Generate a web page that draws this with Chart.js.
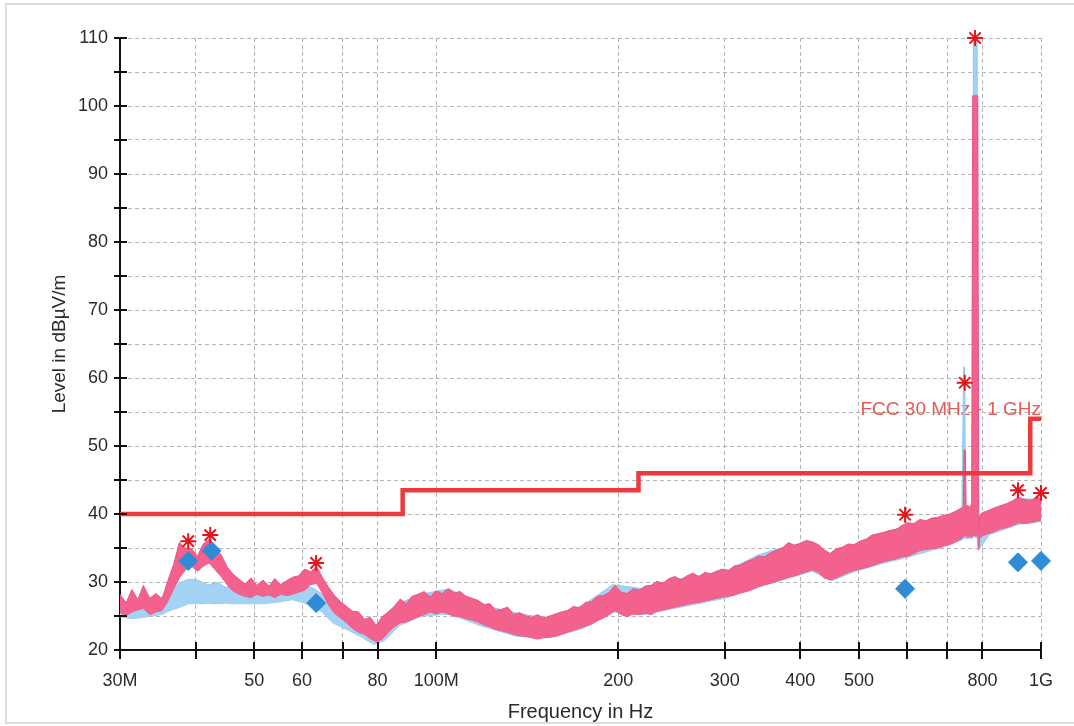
<!DOCTYPE html>
<html>
<head>
<meta charset="utf-8">
<title>Radiated emission scan</title>
<script src="https://cdn.jsdelivr.net/npm/chart.js@4.4.1/dist/chart.umd.min.js"></script>
<style>
  html, body { margin: 0; padding: 0; background: #fff; }
  #wrap { position: relative; width: 1074px; height: 726px; overflow: hidden; }
  #frame { position: absolute; left: 5px; top: 3px; width: 1090px; height: 721px; border: 2px solid #dcdcdc; box-sizing: border-box; }
  #scan { position: absolute; left: 0; top: 0; }
</style>
</head>
<body>
<div id="wrap">
  <div id="frame"></div>
  <canvas id="scan" width="1074" height="726"></canvas>
</div>
<script>
// frequencies in MHz, levels in dBuV/m

// x axis ticks
const xTickValues = [30, 40, 50, 60, 70, 80, 100, 200, 300, 400, 500, 600, 700, 800, 1000];
const xTickLabels = ["30M", "", "50", "60", "", "80", "100M", "200", "300", "400", "500", "", "", "800", "1G"];

// FCC limit (step starts)
const limitFreq = [30, 88, 216, 960, 1000];
const limitLevel = [40, 43.5, 46, 54, 54];

// peak trace (pink) - upper / lower edge of the noise band
const peakFreq = [
  30, 30.7, 31.4, 32.1, 32.8, 33.6, 34.4, 35.2, 36.0, 36.8,
  37.6, 38.5, 39.4, 40.3, 41.2, 42.1, 43.1, 44.1, 45.1, 46.1,
  47.2, 48.3, 49.4, 50.5, 51.7, 52.9, 54.1, 55.3, 56.6, 57.9,
  59.2, 60.6, 62.0, 63.4, 64.9, 66.4, 67.9, 69.5, 71.1, 72.7,
  74.4, 76.1, 77.8, 79.6, 81.4, 83.3, 85.2, 87.2, 89.2, 91.2,
  93.3, 95.5, 97.7, 100, 102.3, 104.6, 107, 109.5, 112, 114.6,
  117.2, 119.9, 122.7, 125.5, 128.4, 131.3, 134.3, 137.4, 140.6, 143.8,
  147.1, 150.5, 154, 157.5, 161.1, 164.8, 168.6, 172.5, 176.5, 180.5,
  184.7, 188.9, 193.3, 197.7, 202.3, 206.9, 211.7, 216.5, 221.5, 226.6,
  231.8, 237.1, 242.6, 248.2, 253.9, 259.7, 265.7, 271.8, 278, 284.4,
  291, 297.7, 304.5, 311.5, 318.7, 326, 333.5, 341.2, 349, 357,
  365.3, 373.7, 382.3, 391.1, 400, 409.2, 418.6, 428.3, 438.1, 448.2,
  458.5, 469, 479.8, 490.9, 502.2, 513.7, 525.5, 537.6, 550, 562.6,
  575.6, 588.8, 602.3, 616.2, 630.3, 644.8, 659.7, 674.8, 690.3, 706.2,
  722.5, 739.1, 744, 746, 750, 752, 756, 762, 768, 771,
  786, 789, 792, 800, 818, 837, 856, 876, 896, 917,
  938, 960, 982, 1000
];
const peakHigh = [
  28.2, 26.9, 28.9, 27.4, 29.5, 27.6, 28.3, 27.5, 30.2, 32.6,
  35.8, 35.0, 34.9, 33.8, 35.6, 36.3, 35.0, 34.0, 32.2, 31.2,
  30.4, 29.7, 30.6, 29.5, 30.3, 29.4, 30.5, 29.6, 30.2, 30.7,
  30.9, 31.9, 31.5, 32.3, 30.6, 29.2, 28.0, 27.1, 26.4, 25.7,
  25.6, 24.5, 24.8, 23.6, 24.9, 25.6, 26.4, 27.5, 26.8, 27.9,
  28.2, 28.6, 27.8, 28.7, 28.3, 29.0, 28.4, 28.6, 27.9, 27.6,
  27.3, 26.7, 26.8, 25.8, 26.0, 26.3, 25.2, 25.5, 25.0, 24.8,
  25.2, 24.7, 25.0, 25.3, 25.6, 25.8, 26.4, 26.2, 27.0, 27.1,
  27.9, 28.0, 28.5, 29.5, 28.5, 28.3, 29.0, 28.8, 29.4, 29.5,
  30.1, 29.8, 30.5, 30.8, 30.3, 30.9, 31.3, 30.8, 31.4, 31.2,
  31.6, 31.9, 31.7, 32.4, 32.5, 33.0, 33.3, 33.8, 33.7, 34.3,
  34.7, 35.0, 35.8, 35.4, 35.7, 36.1, 35.9, 35.5, 34.7, 34.2,
  34.9, 35.1, 35.6, 35.5, 36.0, 36.3, 36.9, 37.1, 37.3, 37.6,
  37.7, 38.3, 38.7, 38.6, 39.2, 39.0, 39.4, 39.5, 39.8, 40.0,
  40.4, 40.9, 41.0, 49.4, 49.4, 40.9, 41.3, 41.0, 41.5, 101.5,
  101.5, 37.6, 39.8, 40.2, 40.5, 40.9, 41.2, 41.5, 41.9, 42.5,
  42.1, 42.0, 42.4, 42.3
];
const peakLow = [
  25.5, 25.1, 25.6, 25.9, 26.1, 25.2, 25.6, 25.8, 27.2, 29.0,
  30.6, 31.8, 32.3, 31.6, 32.3, 32.8, 31.8, 30.8, 29.6, 28.7,
  28.2, 27.9, 27.7, 28.2, 27.9, 28.1, 27.7, 28.2, 28.0, 28.2,
  28.5, 28.8, 29.6, 29.8, 28.3, 26.6, 25.4, 24.7, 24.0, 23.2,
  22.6, 22.3, 21.7, 21.2, 21.6, 22.6, 23.4, 24.0, 24.1, 24.5,
  24.9, 25.2, 25.6, 25.3, 25.6, 25.3, 25.0, 24.9, 24.6, 24.4,
  24.1, 23.7, 23.4, 23.0, 22.8, 22.6, 22.3, 22.1, 22.0, 21.8,
  21.6, 21.8, 21.9, 22.0, 22.3, 22.6, 22.9, 23.2, 23.5, 23.8,
  24.3, 24.7, 25.2, 25.8, 25.2, 24.9, 25.3, 25.2, 25.4, 25.2,
  25.7, 25.9, 26.1, 26.3, 26.5, 26.7, 26.9, 27.0, 27.2, 27.4,
  27.6, 27.8, 27.9, 28.1, 28.4, 28.6, 28.9, 29.3, 29.6, 29.8,
  30.1, 30.4, 30.7, 30.9, 31.2, 31.5, 31.8, 31.4, 30.6, 30.3,
  30.6, 31.0, 31.4, 31.7, 31.9, 32.1, 32.4, 32.7, 33.0, 33.2,
  33.4, 33.7, 33.8, 34.2, 34.6, 34.8, 34.9, 35.0, 35.3, 35.5,
  35.9, 36.4, 36.6, 36.8, 36.8, 36.7, 36.6, 36.7, 36.6, 36.8,
  36.8, 34.8, 36.4, 36.8, 37.1, 37.4, 37.8, 38.0, 38.3, 38.7,
  38.6, 38.7, 38.9, 39.1
];

// average trace (light blue)
const avgFreq = [
  30, 31.5, 32.7, 33.8, 35.1, 36.3, 37.7, 38.9, 40.3, 41.9,
  43.5, 44.9, 46.7, 49.5, 51.7, 54.3, 57.9, 60.6, 62.9, 64.8,
  67.4, 71.2, 74.9, 78.9, 82.2, 86.9, 94.5, 105, 119, 136,
  154, 175, 196, 220, 250, 300, 339, 384, 418, 451,
  494, 540, 600, 680, 740, 745, 748, 750, 770, 773,
  784, 787, 822, 880, 920, 1000
];
const avgHigh = [
  27.4, 26.8, 27.2, 26.6, 27.8, 28.6, 29.9, 30.4, 30.3, 29.6,
  29.9, 29.2, 29.6, 29.4, 29.0, 29.2, 29.6, 29.4, 29.0, 28.2,
  26.3, 25.2, 24.4, 23.5, 24.6, 26.9, 28.2, 29.0, 26.6, 25.4,
  24.6, 26.6, 29.6, 29.0, 30.4, 31.5, 33.9, 35.4, 35.6, 34.0,
  35.4, 37.0, 38.3, 39.4, 40.6, 61.6, 61.6, 40.6, 40.8, 110,
  110, 37.5, 40.4, 41.4, 42.3, 42.1
];
const avgLow = [
  24.9, 24.6, 24.8, 25.0, 25.2, 25.8, 26.3, 26.8, 26.8, 26.9,
  26.8, 26.9, 26.8, 26.8, 26.8, 27.0, 27.4, 26.9, 26.3, 25.6,
  24.0, 23.0, 22.0, 20.8, 21.4, 23.6, 25.0, 25.3, 23.5, 22.0,
  21.8, 23.2, 25.6, 25.2, 26.2, 27.6, 29.2, 30.6, 31.6, 30.2,
  31.6, 32.6, 33.6, 35.0, 36.2, 36.4, 36.4, 36.4, 36.4, 36.6,
  36.6, 34.6, 37.0, 37.9, 38.5, 38.9
];

// peak markers (stars)
const markFreq = [38.9, 42.3, 63.3, 596, 748, 778, 916, 1000];
const markLevel = [36.0, 36.9, 32.8, 39.9, 59.3, 110, 43.5, 43.1];

// quasi-peak results (diamonds)
const qpFreq = [38.9, 42.5, 63.3, 596, 916, 1000];
const qpLevel = [33.1, 34.6, 26.9, 29.0, 32.9, 33.1];

const toPoints = (xs, ys) => xs.map((x, i) => ({ x: x, y: ys[i] }));

const FONT = "'Liberation Sans', Arial, sans-serif";
const PINK = "#f2628d";
const BLUE = "#a4d2f5";

// tick marks that cross the axis lines
const crossTicks = {
  id: "crossTicks",
  afterDraw(chart) {
    const { ctx, chartArea, scales } = chart;
    ctx.save();
    ctx.strokeStyle = "#111";
    ctx.lineWidth = 2;
    ctx.beginPath();
    scales.y.ticks.forEach((t) => {
      const y = Math.round(scales.y.getPixelForValue(t.value));
      ctx.moveTo(chartArea.left - 6, y);
      ctx.lineTo(chartArea.left + 7, y);
    });
    scales.x.ticks.forEach((t) => {
      const x = Math.round(scales.x.getPixelForValue(t.value));
      ctx.moveTo(x, chartArea.bottom - 8);
      ctx.lineTo(x, chartArea.bottom + 9);
    });
    ctx.stroke();
    ctx.restore();
  },
};

// limit name written above the last limit step
const limitLabel = {
  id: "limitLabel",
  beforeDatasetsDraw(chart) {
    const { ctx, scales } = chart;
    ctx.save();
    ctx.font = "19px " + FONT;
    ctx.fillStyle = "#e35a55";
    ctx.textAlign = "right";
    ctx.textBaseline = "alphabetic";
    ctx.fillText(
      "FCC 30 MHz - 1 GHz",
      scales.x.getPixelForValue(limitFreq[limitFreq.length - 1]),
      scales.y.getPixelForValue(limitLevel[limitLevel.length - 1]) - 4
    );
    ctx.restore();
  },
};

new Chart(document.getElementById("scan"), {
  type: "line",
  data: {
    datasets: [
      {
        label: "Peak markers",
        data: toPoints(markFreq, markLevel),
        showLine: false,
        pointStyle: "star",
        pointRadius: 8,
        pointBorderColor: "#e3161c",
        pointBorderWidth: 2,
        clip: false,
      },
      {
        label: "QP",
        data: toPoints(qpFreq, qpLevel),
        showLine: false,
        pointStyle: "rectRot",
        pointRadius: 9.5,
        pointBackgroundColor: "#2f8bd5",
        pointBorderColor: "#2f8bd5",
        pointBorderWidth: 1,
        clip: false,
      },
      {
        label: "FCC 30 MHz - 1 GHz",
        data: toPoints(limitFreq, limitLevel),
        stepped: true,
        borderColor: "#ec3b3d",
        borderWidth: 4.5,
        pointRadius: 0,
        fill: false,
      },
      {
        label: "Peak",
        data: toPoints(peakFreq, peakHigh),
        borderColor: "#ea5282",
        backgroundColor: PINK,
        borderWidth: 1,
        pointRadius: 0,
        tension: 0,
        fill: "+1",
      },
      {
        label: "Peak low",
        data: toPoints(peakFreq, peakLow),
        borderColor: "#ea5282",
        borderWidth: 1,
        pointRadius: 0,
        tension: 0,
        fill: false,
      },
      {
        label: "Average",
        data: toPoints(avgFreq, avgHigh),
        borderColor: "#8cc6f0",
        backgroundColor: BLUE,
        borderWidth: 1,
        pointRadius: 0,
        tension: 0,
        fill: "+1",
      },
      {
        label: "Average low",
        data: toPoints(avgFreq, avgLow),
        borderColor: "#8cc6f0",
        borderWidth: 1,
        pointRadius: 0,
        tension: 0,
        fill: false,
      },
    ],
  },
  options: {
    responsive: false,
    animation: false,
    events: [],
    layout: { padding: { top: 38, right: 33, left: 0, bottom: 0 } },
    plugins: {
      legend: { display: false },
      tooltip: { enabled: false },
    },
    scales: {
      x: {
        type: "logarithmic",
        min: 30,
        max: 1000,
        afterFit: (scale) => { scale.height = 76; },
        afterBuildTicks: (scale) => {
          scale.ticks = xTickValues.map((v) => ({ value: v }));
        },
        ticks: {
          autoSkip: false,
          maxRotation: 0,
          padding: 20,
          color: "#2a2a2a",
          font: { family: FONT, size: 18 },
          callback: (value) => {
            const i = xTickValues.indexOf(value);
            return i >= 0 ? xTickLabels[i] : "";
          },
        },
        grid: { color: "#b4b4b4", lineWidth: 1, drawTicks: false },
        border: { display: true, color: "#111", width: 2, dash: [4, 3] },
        title: {
          display: true,
          text: "Frequency in Hz",
          color: "#2a2a2a",
          font: { family: FONT, size: 20 },
          padding: { top: 0, bottom: 2 },
        },
      },
      y: {
        min: 20,
        max: 110,
        afterFit: (scale) => { scale.width = 120; },
        ticks: {
          stepSize: 5,
          padding: 12,
          color: "#2a2a2a",
          font: { family: FONT, size: 18 },
          callback: (value) => (value % 10 === 0 ? value : ""),
        },
        grid: { color: "#b4b4b4", lineWidth: 1, drawTicks: false },
        border: { display: true, color: "#111", width: 2, dash: [4, 3] },
        title: {
          display: true,
          text: "Level in dBµV/m",
          color: "#2a2a2a",
          font: { family: FONT, size: 19 },
          padding: { top: 48, bottom: 0 },
        },
      },
    },
  },
  plugins: [limitLabel, crossTicks],
});
</script>
</body>
</html>
